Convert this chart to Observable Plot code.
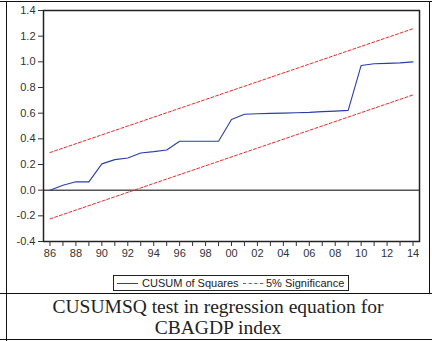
<!DOCTYPE html>
<html>
<head>
<meta charset="utf-8">
<script src="https://cdn.jsdelivr.net/npm/d3@7"></script>
<script src="https://cdn.jsdelivr.net/npm/@observablehq/plot@0.6"></script>
<style>
  html, body { margin: 0; padding: 0; background: #fff; }
  #page { position: relative; width: 432px; height: 341px; overflow: hidden; font-family: "Liberation Sans", Arial, sans-serif; }
  #chart { position: absolute; left: 0; top: 0; }
  .rule { position: absolute; background: #111; }
  #legend { position: absolute; left: 113px; top: 275px; width: 234px; height: 14px; border: 1px solid #222;
            font-size: 11px; color: #222; line-height: 14px; white-space: nowrap; }
  #legend .sw { position: absolute; top: 7px; height: 0; }
  #legend .lbl { position: absolute; top: 0; }
  #caption { position: absolute; left: 7px; top: 296px; width: 422px; text-align: center;
             font-family: "Liberation Serif", "Times New Roman", serif; font-size: 19.5px; line-height: 21px; color: #222; }
</style>
</head>
<body>
<div id="page">
  <div id="chart"></div>
  <div class="rule" style="left:0;top:1px;width:432px;height:1px"></div>
  <div class="rule" style="left:6px;top:1px;width:1px;height:340px"></div>
  <div class="rule" style="left:429px;top:1px;width:1px;height:293px"></div>
  <div class="rule" style="left:0;top:293px;width:432px;height:1px"></div>
  <div class="rule" style="left:0;top:339px;width:432px;height:1px"></div>
  <div id="legend">
    <span class="sw" style="left:3px;width:21px;border-top:1px solid #2a3ea8"></span>
    <span class="lbl" style="left:28px">CUSUM of Squares</span>
    <span class="sw" style="left:129px;width:20px;border-top:1px dashed #e52b2b"></span>
    <span class="lbl" style="left:152px">5% Significance</span>
  </div>
  <div id="caption">CUSUMSQ test in regression equation for<br>CBAGDP index</div>
</div>
<script>
// Observation years 1986–2014
const years = [1986, 1987, 1988, 1989, 1990, 1991, 1992, 1993, 1994, 1995, 1996, 1997, 1998, 1999,
               2000, 2001, 2002, 2003, 2004, 2005, 2006, 2007, 2008, 2009, 2010, 2011, 2012, 2013, 2014];
// Cumulative sum of squared recursive residuals
const cusumSq = [0.000, 0.039, 0.065, 0.065, 0.205, 0.238, 0.251, 0.290, 0.300, 0.313, 0.381, 0.381, 0.381, 0.381,
                 0.550, 0.591, 0.595, 0.598, 0.600, 0.603, 0.606, 0.612, 0.616, 0.622, 0.972, 0.985, 0.988, 0.992, 1.000];
// 5% significance bounds (straight lines, start and end)
const boundYears = [1986, 2014];
const upperBound = [0.293, 1.258];
const lowerBound = [-0.224, 0.742];
// Axis ticks
const yTicks = [-0.4, -0.2, 0.0, 0.2, 0.4, 0.6, 0.8, 1.0, 1.2, 1.4];
const xLabelYears = [1986, 1988, 1990, 1992, 1994, 1996, 1998, 2000, 2002, 2004, 2006, 2008, 2010, 2012, 2014];

const cusumData = years.map((year, i) => ({year, value: cusumSq[i]}));
const upperData = boundYears.map((year, i) => ({year, value: upperBound[i]}));
const lowerData = boundYears.map((year, i) => ({year, value: lowerBound[i]}));

const blue = "#2a3ea8";
const red = "#e52b2b";

const chart = Plot.plot({
  width: 432,
  height: 270,
  marginTop: 10,
  marginLeft: 43,
  marginRight: 13,
  marginBottom: 29,
  style: {fontFamily: "'Liberation Sans', Arial, sans-serif", fontSize: "11px", color: "#333", background: "transparent"},
  x: {domain: [1985.5, 2014.5]},
  y: {domain: [-0.4, 1.4]},
  marks: [
    Plot.ruleY([0], {stroke: "#555", strokeWidth: 1.5}),
    Plot.line(upperData, {x: "year", y: "value", stroke: red, strokeWidth: 1, strokeDasharray: "3,2"}),
    Plot.line(lowerData, {x: "year", y: "value", stroke: red, strokeWidth: 1, strokeDasharray: "3,2"}),
    Plot.line(cusumData, {x: "year", y: "value", stroke: blue, strokeWidth: 1.1}),
    Plot.frame({stroke: "#222", strokeWidth: 1.5}),
    Plot.axisY({ticks: yTicks, tickSize: 5, tickPadding: 3, tickFormat: d => d.toFixed(1), label: null}),
    Plot.axisX({ticks: years, tickSize: 5, tickPadding: 3, label: null,
                tickFormat: d => xLabelYears.includes(d) ? String(d % 100).padStart(2, "0") : ""})
  ]
});
document.getElementById("chart").appendChild(chart);
</script>
</body>
</html>
